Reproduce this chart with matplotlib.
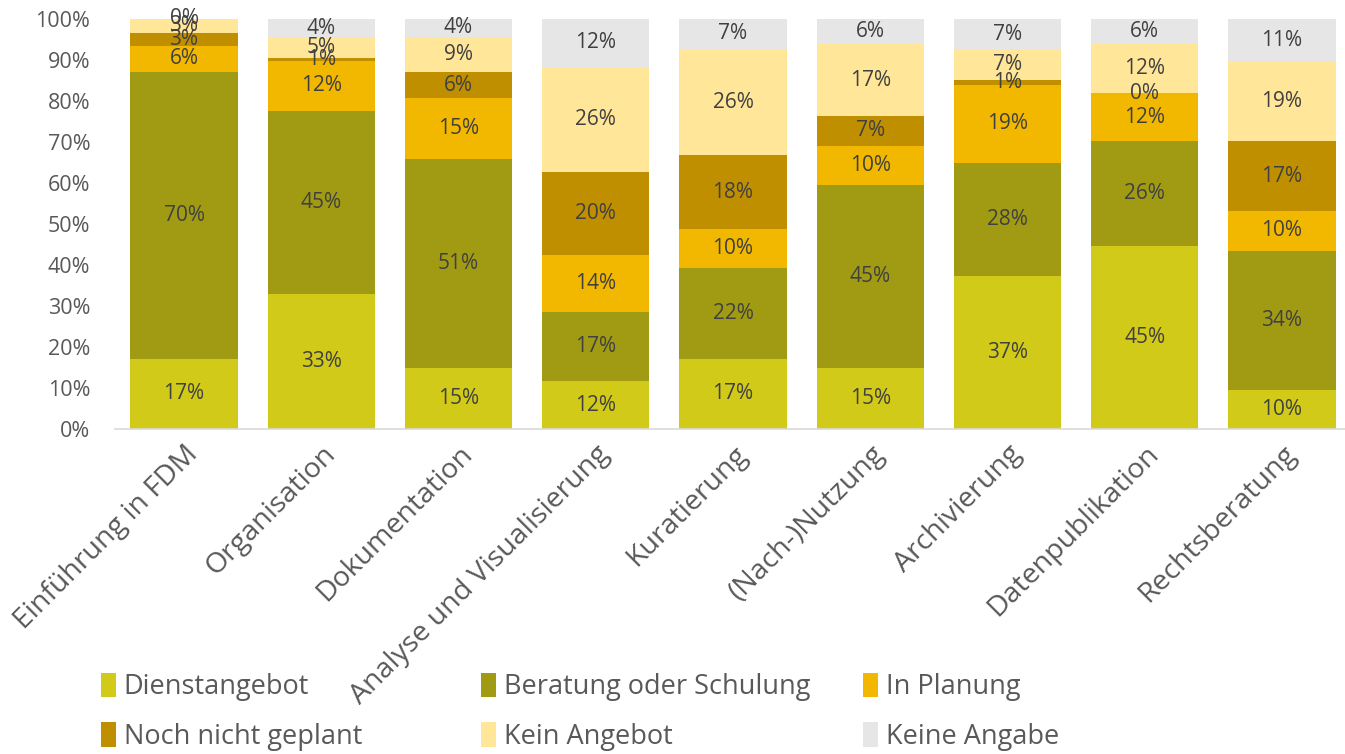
import numpy as np
import matplotlib.pyplot as plt

plt.rcParams["font.family"] = ["Open Sans", "DejaVu Sans"]

categories = ["Einführung in FDM", "Organisation", "Dokumentation",
              "Analyse und Visualisierung", "Kuratierung", "(Nach-)Nutzung",
              "Archivierung", "Datenpublikation", "Rechtsberatung"]
series_names = ["Dienstangebot", "Beratung oder Schulung", "In Planung",
                "Noch nicht geplant", "Kein Angebot", "Keine Angabe"]

dienstangebot = [17.1, 32.9, 14.9, 11.7, 17.1, 14.9, 37.3, 44.6, 9.6]
beratung = [70.0, 44.7, 51.0, 16.8, 22.2, 44.6, 27.6, 25.6, 33.9]
in_planung = [6.3, 12.2, 14.8, 13.9, 9.5, 9.6, 19.0, 11.7, 9.6]
noch_nicht = [3.2, 0.7, 6.4, 20.3, 18.0, 7.3, 1.2, 0.0, 17.1]
kein_angebot = [3.4, 5.1, 8.6, 25.6, 25.9, 17.4, 7.4, 12.0, 19.3]
keine_angabe = [0.0, 4.4, 4.3, 11.7, 7.3, 6.3, 7.4, 6.3, 10.7]

colors = ["#D2CA18", "#A19B14", "#F2B800", "#BF8F00", "#FFE699", "#E7E6E6"]

data = [dienstangebot, beratung, in_planung, noch_nicht, kein_angebot, keine_angabe]

fig = plt.figure(figsize=(13.45, 7.54), dpi=100)
ax = fig.add_axes([115.4 / 1345, 325 / 754, 1235.2 / 1345, 410 / 754])

x = np.arange(len(categories))
bottom = np.zeros(len(categories))
handles = []
for name, vals, col in zip(series_names, data, colors):
    vals = np.array(vals)
    bars = ax.bar(x, vals, bottom=bottom, width=0.78, color=col, label=name)
    handles.append(bars)
    for xi, b, v in zip(x, bottom, vals):
        ax.text(xi, b + v / 2, f"{round(v):.0f}%", ha="center", va="center",
                fontsize=15, color="#404040")
    bottom += vals

ax.set_xlim(-0.5, len(categories) - 0.5)
ax.set_ylim(0, 100)
ax.set_yticks(np.arange(0, 101, 10))
ax.set_yticklabels([f"{t}%" for t in range(0, 101, 10)], fontsize=15.5, color="#595959")
ax.set_xticks(x)
ax.set_xticklabels(categories, rotation=45, ha="right", rotation_mode="anchor",
                   fontsize=20.5, color="#595959")
ax.tick_params(axis="y", length=0, pad=18)
ax.tick_params(axis="x", length=0, pad=8)
for s in ["top", "right", "left"]:
    ax.spines[s].set_visible(False)
ax.spines["bottom"].set_color("#D9D9D9")
ax.spines["bottom"].set_linewidth(1.2)

# legend: three fixed-width columns, filled row-wise
col_x = [90 / 1345, 470 / 1345, 852 / 1345]
for i, cx in enumerate(col_x):
    leg = fig.legend([handles[i], handles[i + 3]], [series_names[i], series_names[i + 3]],
                     loc="upper left", bbox_to_anchor=(cx, 92 / 754), ncol=1,
                     frameon=False, fontsize=19.5, handlelength=0.55, handleheight=1.0,
                     handletextpad=0.3, labelspacing=0.78, borderaxespad=0,
                     labelcolor="#595959")

fig.savefig("out.png", dpi=100)
